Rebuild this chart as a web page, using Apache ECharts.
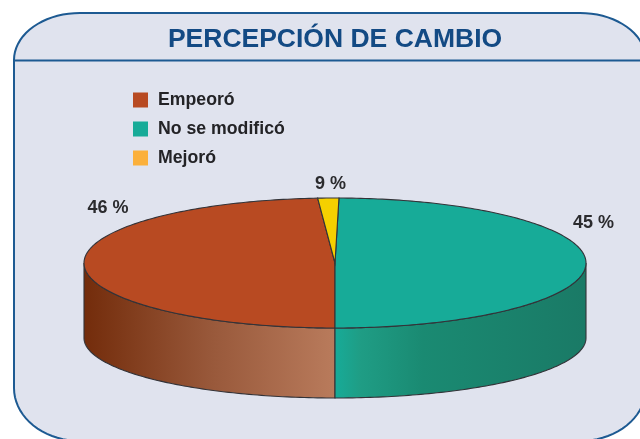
<!DOCTYPE html>
<html><head><meta charset="utf-8">
<style>html,body{margin:0;padding:0;background:#fff}#c{width:640px;height:439px}</style>
<script src="https://cdn.jsdelivr.net/npm/echarts@6/dist/echarts.min.js"></script>
</head><body><div id="c"></div>
<script>
const titleText = 'PERCEPCIÓN DE CAMBIO';
const categories = ['Empeoró', 'No se modificó', 'Mejoró'];
const printedPercent = [46, 45, 9];
// Share of the disc each slice really occupies in the picture (it differs from the printed figure)
const drawnShare = [48.9, 49.75, 1.35];
const clockwiseOrder = [1, 0, 2];
const firstSliceStartDeg = 0.9;

const topColors = ['#b84a22', '#17ab98', '#f5d000'];
const legendColors = ['#b84a22', '#17ab98', '#fbb03b'];
const sideStops = [
  [[0, '#732c0b'], [0.5, '#98583a'], [1, '#b97b5c']],
  [[0, '#17ab98'], [0.1, '#1f9d85'], [0.35, '#1a8a72'], [1, '#1a7a66']],
  [[0, '#d0b000'], [1, '#d0b000']]
];
const labelAnchors = [[108, 208], [593.5, 223], [330.5, 184]];
const disc = { cx: 335, top: 263, rx: 251, ry: 65, lowCy: 338, lowRy: 60 };
const outline = '#333338';

const startDeg = {};
let cursor = firstSliceStartDeg;
clockwiseOrder.forEach(i => { startDeg[i] = cursor; cursor += drawnShare[i] * 3.6; });

const pt = (deg, cy, ry) => {
  const a = deg * Math.PI / 180;
  return [disc.cx + disc.rx * Math.sin(a), cy - ry * Math.cos(a)];
};
const arc = (from, to, cy, ry) => {
  const out = [], n = Math.max(2, Math.ceil(Math.abs(to - from)));
  for (let k = 0; k <= n; k++) out.push(pt(from + (to - from) * k / n, cy, ry));
  return out;
};

function renderSlice(idx) {
  return function (params, api) {
    const from = api.value(0), to = from + api.value(1) * 3.6;
    const children = [];
    const a = Math.max(from, 90), b = Math.min(to, 270);
    if (b > a) {
      const pts = arc(a, b, disc.top, disc.ry).concat(arc(b, a, disc.lowCy, disc.lowRy));
      const xs = pts.map(p => p[0]);
      const x0 = Math.min.apply(null, xs), x1 = Math.max.apply(null, xs);
      const stops = sideStops[idx].map(s => ({ offset: s[0], color: s[1] }));
      children.push({
        type: 'polygon', shape: { points: pts },
        style: {
          fill: { type: 'linear', x: x0, y: 0, x2: x1, y2: 0, global: true, colorStops: stops },
          stroke: outline, lineWidth: 1.1
        }
      });
    }
    children.push({
      type: 'polygon',
      shape: { points: [[disc.cx, disc.top]].concat(arc(from, to, disc.top, disc.ry)) },
      style: { fill: topColors[idx], stroke: outline, lineWidth: 1.1 }
    });
    children.push({
      type: 'text',
      style: {
        x: labelAnchors[idx][0], y: labelAnchors[idx][1],
        text: api.value(2) + ' %', align: 'center', verticalAlign: 'middle',
        fill: '#2b2b2e', font: 'bold 18px "Liberation Sans"'
      }
    });
    return { type: 'group', children };
  };
}

const panelBox = { l: 14, t: 13, r: 646, b: 441, rx: 66, ryTop: 47, ryBottom: 53 };
function corner(cx, cy, ry, fromDeg, toDeg) {
  const out = [];
  for (let d = fromDeg; d <= toDeg; d += 5) {
    const a = d * Math.PI / 180;
    out.push([cx + panelBox.rx * Math.cos(a), cy + ry * Math.sin(a)]);
  }
  return out;
}
const p = panelBox;
const panelPoints = [].concat(
  corner(p.l + p.rx, p.t + p.ryTop, p.ryTop, 180, 270),
  corner(p.r - p.rx, p.t + p.ryTop, p.ryTop, 270, 360),
  corner(p.r - p.rx, p.b - p.ryBottom, p.ryBottom, 0, 90),
  corner(p.l + p.rx, p.b - p.ryBottom, p.ryBottom, 90, 180)
);

const chart = echarts.init(document.getElementById('c'), null, { renderer: 'canvas' });
chart.setOption({
  animation: false,
  backgroundColor: '#ffffff',
  title: {
    text: titleText, left: 330, top: 21, textAlign: 'center',
    textStyle: { fontFamily: 'Liberation Sans', fontWeight: 'bold', fontSize: 26.5, color: '#134a84' }
  },
  legend: {
    orient: 'vertical', left: 128, top: 86, itemWidth: 15, itemHeight: 15, itemGap: 11,
    selectedMode: false, icon: 'rect',
    textStyle: { fontFamily: 'Liberation Sans', fontWeight: 'bold', fontSize: 17.7, color: '#232326', padding: [0, 0, 0, 5] },
    data: categories.map((name, i) => ({ name, itemStyle: { color: legendColors[i], borderWidth: 0 } }))
  },
  graphic: [
    { type: 'polygon', z: -10, shape: { points: panelPoints },
      style: { fill: '#e0e3ee', stroke: '#1d5a92', lineWidth: 2 } },
    { type: 'line', z: -9, shape: { x1: 14, y1: 60.5, x2: 640, y2: 60.5 }, style: { stroke: '#1d5a92', lineWidth: 2 } }
  ],
  series: categories.map((name, i) => ({
    type: 'custom', name, coordinateSystem: 'none', silent: true,
    itemStyle: { color: legendColors[i] },
    renderItem: renderSlice(i),
    data: [[startDeg[i], drawnShare[i], printedPercent[i]]]
  }))
});
</script></body></html>
